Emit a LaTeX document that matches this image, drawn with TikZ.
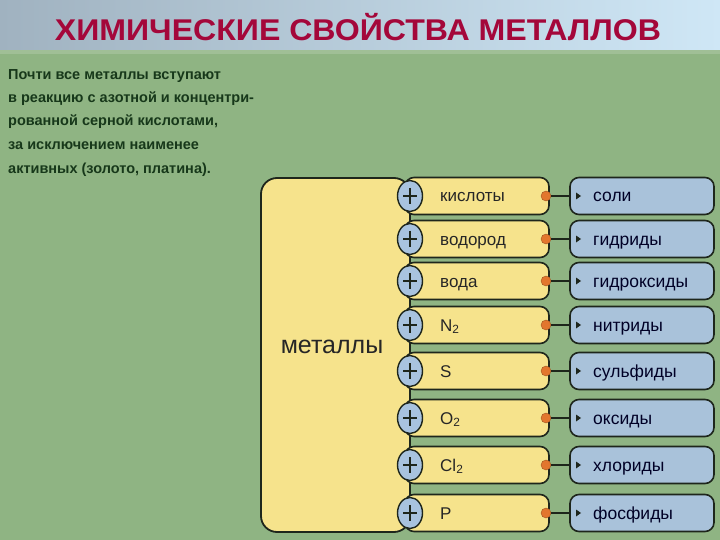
\documentclass[tikz,border=0pt]{standalone}
\usepackage{fontspec}
\setmainfont{Liberation Sans}
\definecolor{bggreen}{HTML}{8FB483}
\definecolor{hdrL}{HTML}{A0B2C0}
\definecolor{hdrR}{HTML}{CFE7F6}
\definecolor{titlered}{HTML}{A4073A}
\definecolor{txtgreen}{HTML}{17381A}
\definecolor{yel}{HTML}{F6E38C}
\definecolor{blu}{HTML}{A9C2DA}
\definecolor{plusblu}{HTML}{A8C3DF}
\definecolor{orng}{HTML}{E2762E}
\definecolor{edge}{HTML}{1E261C}
\tikzset{
  para/.style={anchor=base west, inner sep=0pt, text=txtgreen, font=\fontsize{14.5}{16}\bfseries},
  ybar/.style={draw=edge, line width=1.6pt, fill=yel, rounded corners=9pt},
  bbox/.style={draw=edge, line width=1.6pt, fill=blu, rounded corners=9pt},
  pluscirc/.style={ellipse, draw=edge, line width=1.4pt, fill=plusblu, minimum width=25pt, minimum height=31pt, inner sep=0pt},
  ytext/.style={anchor=base west, inner sep=0pt, text=black!85, font=\fontsize{17}{19}\selectfont},
  btext/.style={anchor=base west, inner sep=0pt, text=black!85!blue, font=\fontsize{17.5}{19}\selectfont},
  odot/.style={circle, fill=orng, draw=orng!70!black, line width=0.4pt, minimum size=10pt, inner sep=0pt},
}
\usetikzlibrary{shapes.geometric}
\begin{document}
\begin{tikzpicture}[x=1pt,y=-1pt]
\useasboundingbox (0,0) rectangle (720,540);
% background
\fill[bggreen] (0,0) rectangle (720,540);
\shade[left color=hdrL, right color=hdrR] (0,0) rectangle (720,50);
\fill[bggreen!85!white] (0,50) rectangle (720,54);
\node[text=titlered, font=\fontsize{30}{32}\bfseries, xscale=1.07] (title) at (358,27) {ХИМИЧЕСКИЕ СВОЙСТВА МЕТАЛЛОВ};
% paragraph
\node[para] (p1) at (8,80) {Почти все металлы вступают};
\node[para] (p2) at (8,103) {в реакцию с азотной и концентри-};
\node[para] (p3) at (8,126) {рованной серной кислотами,};
\node[para] (p4) at (8,150) {за исключением наименее};
\node[para] (p5) at (8,174) {активных (золото, платина).};
% metals box
\draw[draw=edge, line width=1.8pt, fill=yel, rounded corners=16pt] (261,178) rectangle (410,532);
\node[font=\fontsize{25}{27}\selectfont, text=black!85] (met) at (332,347) {металлы};
% rows
\foreach \y/\a/\b [count=\i] in {196/кислоты/соли, 239/водород/гидриды, 281/вода/гидроксиды, 325/N\textsubscript{2}/нитриды, 371/S/сульфиды, 418/O\textsubscript{2}/оксиды, 465/Cl\textsubscript{2}/хлориды, 513/P/фосфиды}{
  \draw[ybar] (405,\y-18.5) rectangle (549,\y+18.5);
  \node[pluscirc] (c\i) at (410,\y) {};
  \draw[edge, line width=1.4pt] (c\i.center) ++(-7,0) -- ++(14,0);
  \draw[edge, line width=1.4pt] (c\i.center) ++(0,-8) -- ++(0,16);
  \node[ytext] (r\i) at (440,\y+6) {\a};
  \draw[bbox] (570,\y-18.5) rectangle (714,\y+18.5);
  \coordinate (bl\i) at (570,\y);
  \node[odot] (o\i) at (546,\y) {};
  \draw[edge, line width=1.6pt] (o\i.east) -- (bl\i);
  \fill[edge] (576,\y-3.5) -- (581,\y) -- (576,\y+3.5) -- cycle;
  \node[btext] (p\i) at (593,\y+6) {\b};
}
\end{tikzpicture}
\end{document}
